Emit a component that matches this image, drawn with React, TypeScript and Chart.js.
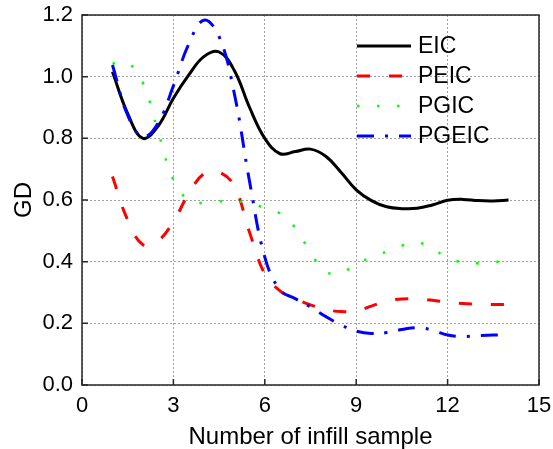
import React, { useEffect, useRef } from 'react';
import { Chart, registerables } from 'chart.js';

Chart.register(...registerables);

const xValues = [1, 1.5, 2, 2.5, 3, 3.5, 4, 4.5, 5, 5.5, 6, 6.5, 7, 7.5, 8, 8.5, 9, 9.5, 10, 10.5, 11, 11.5, 12, 12.5, 13, 13.5, 14];

const eic = [1.016, 0.88, 0.80, 0.84, 0.93, 1.005, 1.065, 1.08, 1.02, 0.90, 0.80, 0.75, 0.757, 0.765, 0.742, 0.69, 0.633, 0.598, 0.578, 0.572, 0.573, 0.584, 0.599, 0.602, 0.598, 0.597, 0.60];
const peic = [0.676, 0.535, 0.455, 0.468, 0.53, 0.62, 0.685, 0.69, 0.645, 0.495, 0.36, 0.305, 0.28, 0.26, 0.245, 0.238, 0.24, 0.256, 0.272, 0.279, 0.279, 0.275, 0.268, 0.264, 0.262, 0.261, 0.261];
const pgic = [1.043, 1.045, 0.98, 0.82, 0.665, 0.60, 0.59, 0.595, 0.596, 0.59, 0.574, 0.556, 0.51, 0.43, 0.368, 0.362, 0.394, 0.413, 0.433, 0.452, 0.463, 0.443, 0.412, 0.398, 0.395, 0.398, 0.403];
const pgeic = [1.038, 0.875, 0.805, 0.85, 0.97, 1.105, 1.183, 1.13, 0.945, 0.66, 0.415, 0.308, 0.28, 0.253, 0.222, 0.195, 0.175, 0.167, 0.17, 0.18, 0.186, 0.178, 0.162, 0.157, 0.16, 0.162, 0.162];

const seriesLabels = ['EIC', 'PEIC', 'PGIC', 'PGEIC'];
const xTicks = [0, 3, 6, 9, 12, 15];
const yTicks = [0, 0.2, 0.4, 0.6, 0.8, 1.0, 1.2];

const FONT = "'Liberation Sans', Arial, Helvetica, sans-serif";

const toPoints = (ys: number[]) => xValues.map((x, i) => ({ x, y: ys[i] }));

const framePlugin = {
  id: 'frameAndLegend',
  afterDatasetsDraw(chart: any) {
    const { ctx, chartArea: a, scales } = chart;
    ctx.save();
    ctx.setLineDash([]);
    ctx.strokeStyle = '#262626';
    ctx.lineWidth = 1.5;
    ctx.strokeRect(a.left, a.top, a.right - a.left, a.bottom - a.top);
    ctx.beginPath();
    for (const v of xTicks) {
      const px = scales.x.getPixelForValue(v);
      ctx.moveTo(px, a.bottom);
      ctx.lineTo(px, a.bottom - 6);
    }
    for (const v of yTicks) {
      const py = scales.y.getPixelForValue(v);
      ctx.moveTo(a.left, py);
      ctx.lineTo(a.left + 6, py);
    }
    ctx.stroke();
    const lx0 = 357, lx1 = 411, tx = 418, y0 = 46, dy = 30;
    chart.data.datasets.forEach((ds: any, i: number) => {
      const y = y0 + i * dy;
      ctx.beginPath();
      ctx.strokeStyle = ds.borderColor;
      ctx.lineWidth = ds.borderWidth;
      ctx.setLineDash(ds.borderDash || []);
      ctx.lineCap = 'butt';
      ctx.moveTo(lx0, y);
      ctx.lineTo(lx1, y);
      ctx.stroke();
      ctx.setLineDash([]);
      ctx.fillStyle = '#000';
      ctx.font = `23px ${FONT}`;
      ctx.textBaseline = 'middle';
      ctx.textAlign = 'left';
      ctx.fillText(ds.label, tx, y + 1);
    });
    ctx.restore();
  },
};

export default function App() {
  const ref = useRef<HTMLCanvasElement | null>(null);
  useEffect(() => {
    if (!ref.current) return;
    const chart = new Chart(ref.current, {
      type: 'line',
      data: {
        datasets: [
          { label: seriesLabels[0], data: toPoints(eic), borderColor: '#000000', borderWidth: 3, borderDash: [], pointRadius: 0, tension: 0.4, order: 4, fill: false },
          { label: seriesLabels[1], data: toPoints(peic), borderColor: '#ff0000', borderWidth: 3, borderDash: [13, 19], pointRadius: 0, tension: 0.4, order: 3, fill: false },
          { label: seriesLabels[2], data: toPoints(pgic), borderColor: '#00ff00', borderWidth: 2.5, borderDash: [2.5, 17.5], pointRadius: 0, tension: 0.4, order: 2, fill: false },
          { label: seriesLabels[3], data: toPoints(pgeic), borderColor: '#0000ff', borderWidth: 3, borderDash: [17, 11, 3, 11], pointRadius: 0, tension: 0.4, order: 1, fill: false },
        ],
      },
      options: {
        responsive: false,
        animation: false,
        devicePixelRatio: 1,
        layout: { padding: { top: 15, right: 14, left: 0, bottom: 0 } },
        plugins: { legend: { display: false }, tooltip: { enabled: false } },
        scales: {
          x: {
            type: 'linear',
            min: 0,
            max: 15,
            afterBuildTicks: (s: any) => { s.ticks = xTicks.map((v) => ({ value: v })); },
            afterFit: (s: any) => { s.height = 64; s.paddingLeft = 0; s.paddingRight = 0; },
            ticks: { color: '#000', font: { size: 22, family: FONT }, padding: 8, maxRotation: 0, callback: (v: any) => String(v) },
            grid: { color: '#a0a0a0', lineWidth: 1, drawTicks: false },
            border: { display: false, dash: [2, 2] },
            title: { display: true, text: 'Number of infill sample', color: '#000', font: { size: 24, family: FONT }, padding: { top: 0, bottom: -3 } },
          },
          y: {
            type: 'linear',
            min: 0,
            max: 1.2,
            afterBuildTicks: (s: any) => { s.ticks = yTicks.map((v) => ({ value: v })); },
            afterFit: (s: any) => { s.width = 82; s.paddingTop = 0; s.paddingBottom = 0; },
            ticks: { color: '#000', font: { size: 22, family: FONT }, padding: 9, callback: (v: any) => Number(v).toFixed(1) },
            grid: { color: '#a0a0a0', lineWidth: 1, drawTicks: false },
            border: { display: false, dash: [2, 2] },
            title: { display: true, text: 'GD', color: '#000', font: { size: 24, family: FONT }, padding: { top: 10, bottom: 0 } },
          },
        },
      },
      plugins: [framePlugin],
    } as any);
    return () => chart.destroy();
  }, []);
  return (
    <div style={{ position: 'fixed', left: 0, top: 0, width: 553, height: 449, background: '#fff' }}>
      <canvas ref={ref} width={553} height={449} style={{ display: 'block', width: 553, height: 449 }} />
    </div>
  );
}
